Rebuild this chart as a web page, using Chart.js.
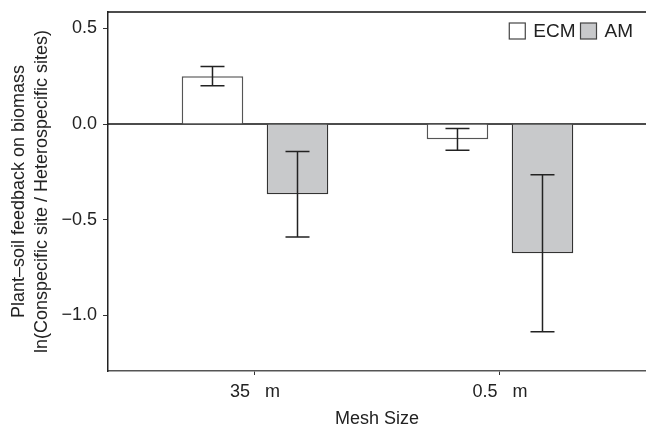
<!DOCTYPE html>
<html lang="en">
<head>
  <meta charset="UTF-8">
  <title>Plant-soil feedback by mesh size</title>
  <script src="https://cdn.jsdelivr.net/npm/chart.js"></script>
  <style>
    html, body { margin: 0; padding: 0; background: #fff; }
    #wrap { width: 646px; height: 428px; }
  </style>
</head>
<body>
  <div id="wrap"><canvas id="chart"></canvas></div>
  <script>
    // data
    const meshSizes = ["35   m", "0.5   m"];
    const ecmMeans = [0.25, -0.08];
    const ecmErrors = [0.05, 0.057];
    const amMeans = [-0.367, -0.675];
    const amErrors = [0.223, 0.41];
    const yTicks = [-1.0, -0.5, 0.0, 0.5];

    const FONT = "'Liberation Sans', Arial, sans-serif";

    const toPoints = (vals) => vals.map((v, i) => ({ x: i, y: v }));
    const fmt = (v) => (v < 0 ? "\u2212" : "") + Math.abs(v).toFixed(1);

    // zero line, error bars, top frame and the legend inside the plot
    const extras = {
      id: "extras",
      beforeDatasetsDraw(chart) {
        const { ctx, chartArea, scales } = chart;
        const y0 = scales.y.getPixelForValue(0);
        ctx.save();
        ctx.strokeStyle = "#111";
        ctx.lineWidth = 1.5;
        ctx.beginPath();
        ctx.moveTo(chartArea.left, y0);
        ctx.lineTo(chartArea.right, y0);
        ctx.stroke();
        ctx.restore();
      },
      afterDatasetsDraw(chart) {
        const { ctx, chartArea, scales } = chart;
        const errs = [ecmErrors, amErrors];
        ctx.save();
        ctx.strokeStyle = "#222";
        ctx.lineWidth = 1.5;
        chart.data.datasets.forEach((ds, i) => {
          const meta = chart.getDatasetMeta(i);
          meta.data.forEach((bar, j) => {
            const v = ds.data[j].y;
            const hi = scales.y.getPixelForValue(v + errs[i][j]);
            const lo = scales.y.getPixelForValue(v - errs[i][j]);
            const x = bar.x;
            ctx.beginPath();
            ctx.moveTo(x, hi); ctx.lineTo(x, lo);
            ctx.moveTo(x - 12, hi); ctx.lineTo(x + 12, hi);
            ctx.moveTo(x - 12, lo); ctx.lineTo(x + 12, lo);
            ctx.stroke();
          });
        });
        // top frame
        ctx.strokeStyle = "#111";
        ctx.beginPath();
        ctx.moveTo(chartArea.left, chartArea.top);
        ctx.lineTo(chartArea.right, chartArea.top);
        ctx.stroke();

        // legend, laid out from the right edge
        ctx.font = "19px " + FONT;
        ctx.textBaseline = "middle";
        ctx.fillStyle = "#222";
        const box = 16, gapText = 8, gapItem = 5, cy = 31;
        let x = chartArea.right - 13;
        const items = chart.data.datasets.slice().reverse();
        items.forEach((ds) => {
          const w = ctx.measureText(ds.label).width;
          x -= w;
          ctx.fillText(ds.label, x, cy + 1);
          x -= gapText + box;
          ctx.fillStyle = ds.backgroundColor;
          ctx.fillRect(x, cy - box / 2, box, box);
          ctx.strokeStyle = "#444";
          ctx.lineWidth = 1.2;
          ctx.strokeRect(x, cy - box / 2, box, box);
          ctx.fillStyle = "#222";
          x -= gapItem;
        });
        ctx.restore();
      }
    };

    new Chart(document.getElementById("chart"), {
      type: "bar",
      data: {
        datasets: [{
          label: "ECM",
          data: toPoints(ecmMeans),
          backgroundColor: "#ffffff",
          borderColor: "#555",
          borderWidth: 1.5
        }, {
          label: "AM",
          data: toPoints(amMeans),
          backgroundColor: "#c8c9cb",
          borderColor: "#333",
          borderWidth: 1.5
        }]
      },
      plugins: [extras],
      options: {
        responsive: true,
        maintainAspectRatio: false,
        animation: false,
        categoryPercentage: 0.694,
        barPercentage: 0.724,
        layout: { padding: { left: 8, top: 12, right: 0, bottom: 0 } },
        scales: {
          x: {
            type: "linear",
            offset: false,
            min: -0.6,
            max: 1.596,
            afterBuildTicks: (scale) => { scale.ticks = meshSizes.map((_, i) => ({ value: i })); },
            afterFit: (scale) => { scale.height = 57; scale.paddingLeft = 0; scale.paddingRight = 0; },
            border: { display: true, color: "#555", width: 1.5 },
            grid: { display: true, offset: false, drawOnChartArea: false, drawTicks: true, tickLength: 4, tickColor: "#333" },
            ticks: {
              padding: 6,
              color: "#222",
              font: { family: FONT, size: 18 },
              callback: (v) => meshSizes[v]
            },
            title: {
              display: true,
              text: "Mesh Size",
              color: "#222",
              font: { family: FONT, size: 18, lineHeight: 1 },
              padding: { top: 0, bottom: 0 }
            }
          },
          y: {
            min: -1.29,
            max: 0.585,
            afterBuildTicks: (scale) => { scale.ticks = yTicks.map((v) => ({ value: v })); },
            afterFit: (scale) => { scale.width = 100; scale.paddingTop = 0; scale.paddingBottom = 0; },
            border: { display: true, color: "#222", width: 1.5 },
            grid: { display: true, drawOnChartArea: false, drawTicks: true, tickLength: 5, tickColor: "#333" },
            ticks: {
              padding: 6,
              color: "#222",
              font: { family: FONT, size: 18 },
              callback: (v) => fmt(v)
            },
            title: {
              display: true,
              text: ["Plant\u2013soil feedback on biomass", "ln(Conspecific site / Heterospecific sites)"],
              color: "#222",
              font: { family: FONT, size: 18, lineHeight: 1.25 },
              padding: { top: 0, bottom: 0 }
            }
          }
        },
        plugins: {
          tooltip: { enabled: false },
          legend: { display: false }
        }
      }
    });
  </script>
</body>
</html>
